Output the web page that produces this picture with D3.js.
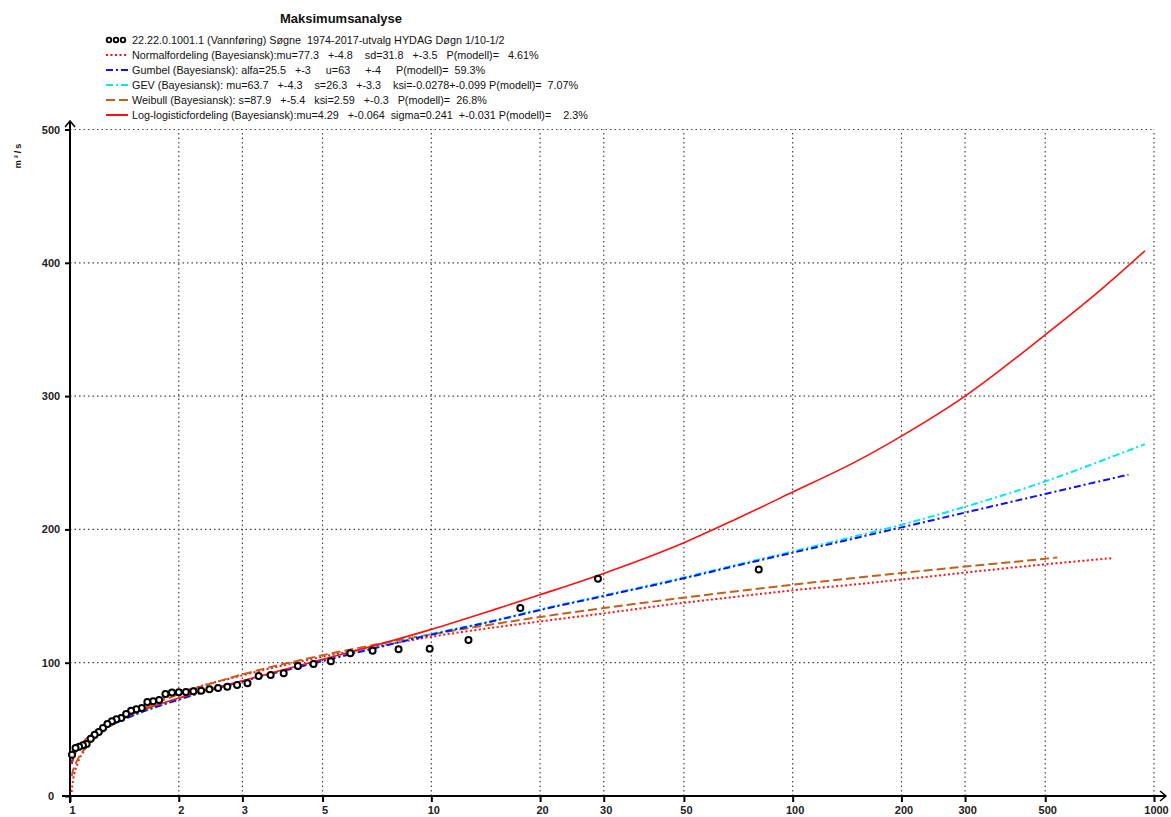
<!DOCTYPE html>
<html>
<head>
<meta charset="utf-8">
<script src="https://cdn.jsdelivr.net/npm/d3@7"></script>
<style>
  body { margin: 0; background: #fff; }
  text { font-family: "Liberation Sans", Arial, sans-serif; }
</style>
</head>
<body>
<div id="chart"></div>
<script>
// observed annual maxima, plotted at their return periods
var returnPeriods = [80.57, 28.92, 17.63, 12.67, 9.895, 8.115, 6.878, 5.968, 5.271, 4.720,
  4.273, 3.903, 3.592, 3.327, 3.099, 2.900, 2.725, 2.569, 2.431, 2.307,
  2.195, 2.093, 2.000, 1.915, 1.837, 1.765, 1.699, 1.637, 1.580, 1.526,
  1.476, 1.430, 1.386, 1.344, 1.306, 1.269, 1.234, 1.201, 1.170, 1.141,
  1.112, 1.086, 1.060, 1.036, 1.013];
var observed = [170, 163, 141, 117, 110.5, 110, 109, 107, 101, 99,
  97.5, 92, 90.8, 90, 84.6, 83.3, 82, 81, 80, 79,
  78.5, 78, 77.8, 77.6, 76.5, 72, 71, 70.5, 66, 65,
  64, 61.5, 58.5, 57.5, 56, 54, 51, 48, 46, 43,
  39, 38, 37, 36, 31];

// fitted curves, return period -> discharge
var curveT = [1.01, 1.02, 1.05, 1.1, 1.2, 1.5, 2, 3, 5, 7, 10, 15, 20, 30, 50, 70, 100, 150, 200, 300, 500];
var normalT = curveT.concat([770]);
var normalQ = [3, 12, 24.5, 35, 46.5, 63.6, 77.3, 90.5, 104.5, 112, 119.5, 126.5, 131, 137, 145, 149.5, 154.3, 158.8, 162.4, 167.6, 173.8, 178.5];
var gumbelT = curveT.concat([700, 850]);
var gumbelQ = [24, 28.1, 34.6, 40.7, 48.1, 60.6, 72.3, 86, 101.2, 111, 121, 131.5, 139.5, 150, 163.3, 172.8, 182.5, 193.6, 201.5, 212.6, 226.6, 235.8, 241.1];
var gevT = curveT.concat([700, 944]);
var gevQ = [25, 29, 35, 41, 48.3, 60.6, 72.5, 86.2, 101.5, 111.2, 121.5, 131.8, 140, 150.5, 164, 173.5, 183.5, 195, 203.5, 217, 236, 250.5, 264];
var weibullT = curveT.concat([540]);
var weibullQ = [14.8, 19.3, 27.4, 35.5, 45.6, 62, 76.3, 91.2, 105.6, 113.6, 121.3, 129.1, 134.3, 141, 148.8, 153.6, 158.5, 163.7, 167.3, 172.1, 178, 179];
var loglogT = curveT.concat([700, 944]);
var loglogQ = [24, 28.5, 35.5, 42, 49.5, 61.8, 73.5, 86.5, 102.5, 113, 125, 140, 151, 167, 190, 208, 228, 251, 270, 300, 346, 378, 409];

var xTicks = [1, 2, 3, 5, 10, 20, 30, 50, 100, 200, 300, 500, 1000];
var yTicks = [0, 100, 200, 300, 400, 500];

var legendLabels = [
  "22.22.0.1001.1 (Vannføring) Søgne  1974-2017-utvalg HYDAG Døgn 1/10-1/2",
  "Normalfordeling (Bayesiansk):mu=77.3   +-4.8    sd=31.8   +-3.5   P(modell)=   4.61%",
  "Gumbel (Bayesiansk): alfa=25.5   +-3     u=63     +-4     P(modell)=  59.3%",
  "GEV (Bayesiansk): mu=63.7   +-4.3    s=26.3   +-3.3    ksi=-0.0278+-0.099 P(modell)=  7.07%",
  "Weibull (Bayesiansk): s=87.9   +-5.4   ksi=2.59   +-0.3   P(modell)=  26.8%",
  "Log-logisticfordeling (Bayesiansk):mu=4.29   +-0.064  sigma=0.241  +-0.031 P(modell)=    2.3%"
];

var width = 1171, height = 817;

var svg = d3.select("#chart").append("svg")
  .attr("width", width)
  .attr("height", height);

var x = d3.scaleLog().domain([1, 1000]).range([70, 1154]);
var y = d3.scaleLinear().domain([0, 500]).range([796, 129.5]);

// grid
var grid = svg.append("g").attr("stroke", "#444").attr("stroke-width", 1.2).attr("stroke-dasharray", "1.5,3");
grid.selectAll(".gx").data(xTicks.slice(1)).enter().append("line")
  .attr("x1", function(d) { return x(d); }).attr("x2", function(d) { return x(d); })
  .attr("y1", y(0)).attr("y2", y(500));
grid.selectAll(".gy").data(yTicks.slice(1)).enter().append("line")
  .attr("x1", x(1)).attr("x2", x(1000))
  .attr("y1", function(d) { return y(d); }).attr("y2", function(d) { return y(d); });

// axes
var xAxis = svg.append("g")
  .attr("transform", "translate(0," + y(0) + ")")
  .call(d3.axisBottom(x).tickValues(xTicks).tickFormat(d3.format("d")).tickSize(6).tickSizeOuter(0));
var yAxis = svg.append("g")
  .attr("transform", "translate(" + x(1) + ",0)")
  .call(d3.axisLeft(y).tickValues(yTicks).tickSize(5).tickSizeOuter(0));

[xAxis, yAxis].forEach(function(a) {
  a.select(".domain").remove();
  a.selectAll(".tick line").attr("stroke", "#000").attr("stroke-width", 2);
  a.selectAll(".tick text")
    .attr("font-family", "'Liberation Sans', Arial, sans-serif")
    .attr("font-size", 11).attr("font-weight", "bold").attr("fill", "#222");
});
xAxis.selectAll(".tick text").attr("dx", 2).attr("y", 10);
yAxis.selectAll(".tick text").attr("text-anchor", "middle").attr("x", -19);

// axis lines with arrows
svg.append("line").attr("x1", 62).attr("x2", 1166).attr("y1", y(0)).attr("y2", y(0))
  .attr("stroke", "#000").attr("stroke-width", 2);
svg.append("line").attr("x1", x(1)).attr("x2", x(1)).attr("y1", 803).attr("y2", 121)
  .attr("stroke", "#000").attr("stroke-width", 2);
svg.append("path").attr("d", "M1160,791 L1166,796 L1160,801")
  .attr("fill", "none").attr("stroke", "#000").attr("stroke-width", 1.5);
svg.append("path").attr("d", "M65,127 L70,121 L75,127")
  .attr("fill", "none").attr("stroke", "#000").attr("stroke-width", 1.5);

// curves
var line = d3.line()
  .x(function(d) { return x(d[0]); })
  .y(function(d) { return y(d[1]); })
  .curve(d3.curveMonotoneX);

var curves = [
  {t: normalT, q: normalQ, color: "#ff1010", dash: "2,2.5", w: 2},
  {t: weibullT, q: weibullQ, color: "#c0601c", dash: "9,4", w: 2},
  {t: gevT, q: gevQ, color: "#00e8f0", dash: "7,3,2,3", w: 2},
  {t: gumbelT, q: gumbelQ, color: "#1010f0", dash: "7,3,2,3", w: 2},
  {t: loglogT, q: loglogQ, color: "#ff1010", dash: null, w: 1.6}
];

curves.forEach(function(c) {
  svg.append("path")
    .datum(d3.zip(c.t, c.q))
    .attr("d", line)
    .attr("fill", "none")
    .attr("stroke", c.color)
    .attr("stroke-width", c.w)
    .attr("stroke-dasharray", c.dash);
});

// observations
svg.selectAll(".obs").data(d3.zip(returnPeriods, observed)).enter().append("circle")
  .attr("cx", function(d) { return x(d[0]); })
  .attr("cy", function(d) { return y(d[1]); })
  .attr("r", 3)
  .attr("fill", "#fff")
  .attr("stroke", "#000")
  .attr("stroke-width", 2);

// title
svg.append("text")
  .text("Maksimumsanalyse")
  .attr("x", 341).attr("y", 23)
  .attr("text-anchor", "middle")
  .attr("font-size", 13).attr("font-weight", "bold").attr("fill", "#111");

// y label
svg.append("text")
  .text("m³/s")
  .attr("transform", "translate(21,155) rotate(-90)")
  .attr("text-anchor", "middle")
  .attr("font-size", 9).attr("font-weight", "bold")
  .attr("letter-spacing", 2).attr("fill", "#111");

// legend
var legend = svg.append("g");
var rowY = function(i) { return 40 + i * 15; };
legend.selectAll("text").data(legendLabels).enter().append("text")
  .text(function(d) { return d; })
  .attr("x", 132)
  .attr("y", function(d, i) { return rowY(i) + 4; })
  .attr("font-size", 10.8)
  .attr("fill", "#111")
  .style("white-space", "pre");

[0, 1, 2].forEach(function(k) {
  legend.append("circle")
    .attr("cx", 109 + k * 7).attr("cy", rowY(0))
    .attr("r", 2.3).attr("fill", "#fff").attr("stroke", "#000").attr("stroke-width", 1.8);
});
[curves[0], curves[3], curves[2], curves[1], curves[4]].forEach(function(c, i) {
  legend.append("line")
    .attr("x1", 106).attr("x2", 128)
    .attr("y1", rowY(i + 1)).attr("y2", rowY(i + 1))
    .attr("stroke", c.color)
    .attr("stroke-width", 2)
    .attr("stroke-dasharray", c.dash);
});
</script>
</body>
</html>
